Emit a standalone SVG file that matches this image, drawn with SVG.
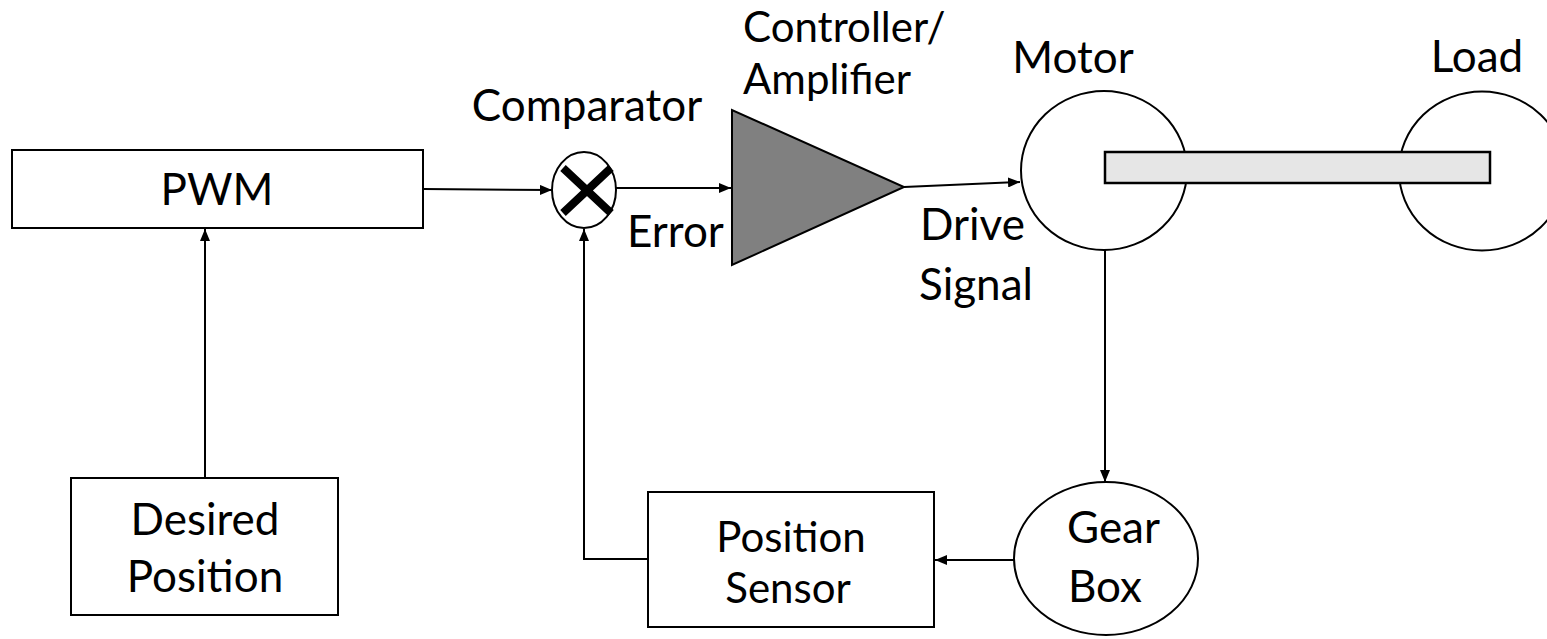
<svg xmlns="http://www.w3.org/2000/svg" width="1547" height="639" viewBox="0 0 1547 639">
<style>
text{font-family:Lato,"Liberation Sans",sans-serif;font-size:44px;fill:#000}
.c{text-anchor:middle}
.s{font-size:42px}
.box{fill:#fff;stroke:#000;stroke-width:2}
.ln{fill:none;stroke:#000;stroke-width:2}
</style>
<defs>
<marker id="ah" viewBox="0 0 12 10" refX="12" refY="5" markerWidth="12" markerHeight="10" markerUnits="userSpaceOnUse" orient="auto">
<path d="M0,0 L12,5 L0,10 Z" fill="#000"/>
</marker>
</defs>
<rect width="1547" height="639" fill="#fff"/>
<g id="motor">
<ellipse cx="1104" cy="170.5" rx="83" ry="79.5" class="box" stroke-width="2.5"/>
<text x="1073" y="73" class="c">Motor</text>
</g>
<g id="load">
<ellipse cx="1482" cy="171" rx="83" ry="79.5" class="box" stroke-width="2.5"/>
<text x="1477" y="72" class="c">Load</text>
</g>
<g id="shaft">
<rect x="1105" y="152" width="385" height="31" fill="#e6e6e6" stroke="#000" stroke-width="2.5"/>
</g>
<g id="pwm">
<rect x="12" y="150" width="411" height="78" class="box"/>
<text x="217" y="205" class="c">PWM</text>
</g>
<g id="desired">
<rect x="71" y="478" width="267" height="137" class="box"/>
<text x="205" y="535" class="c">Desired</text>
<text x="205" y="592" class="c">Position</text>
</g>
<g id="comparator">
<ellipse cx="584" cy="190" rx="32" ry="38" class="box" stroke-width="2.5"/>
<path d="M563,168 L611,213 M611,168 L563,213" stroke="#000" stroke-width="8"/>
<text x="587" y="121" class="c">Comparator</text>
</g>
<g id="controller">
<polygon points="732,110 732,265 904,187" fill="#808080" stroke="#000" stroke-width="2"/>
<text x="743" y="42" class="s">Controller/</text>
<text x="743" y="94" class="s">Amplifier</text>
</g>
<g id="gearbox">
<ellipse cx="1106" cy="558.5" rx="92" ry="76.5" class="box"/>
<text x="1067" y="543">Gear</text>
<text x="1068" y="602">Box</text>
</g>
<g id="sensor">
<rect x="648" y="492" width="286" height="135" class="box"/>
<text x="791" y="552" class="c s">Position</text>
<text x="788" y="603" class="c s">Sensor</text>
</g>
<g id="connectors">
<line x1="205" y1="478" x2="205" y2="229" class="ln" marker-end="url(#ah)"/>
<line x1="423" y1="189" x2="552" y2="190" class="ln" marker-end="url(#ah)"/>
<line x1="616" y1="188" x2="731" y2="188" class="ln" marker-end="url(#ah)"/>
<line x1="904" y1="187" x2="1020" y2="182" class="ln" marker-end="url(#ah)"/>
<line x1="1105" y1="250" x2="1105" y2="482" class="ln" marker-end="url(#ah)"/>
<line x1="1014" y1="560" x2="935" y2="560" class="ln" marker-end="url(#ah)"/>
<polyline points="648,559 584,559 584,229" class="ln" marker-end="url(#ah)"/>
<text x="627" y="247">Error</text>
<text x="920" y="240">Drive</text>
<text x="919" y="300">Signal</text>
</g>
</svg>
